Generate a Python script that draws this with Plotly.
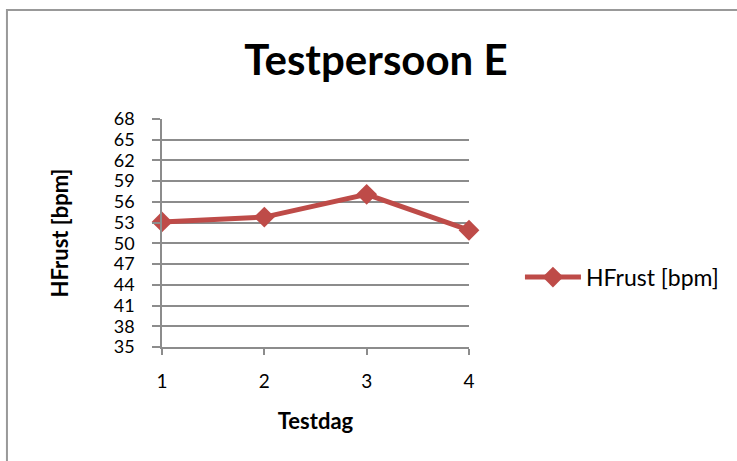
import plotly.graph_objects as go

testdag = [1, 2, 3, 4]
hfrust = [53.1, 53.8, 57.1, 51.9]
y_ticks = [35, 38, 41, 44, 47, 50, 53, 56, 59, 62, 65, 68]
series_name = "HFrust [bpm]"
title_text = "Testpersoon E"
x_title = "Testdag"
y_title = "HFrust [bpm]"

W, H = 737, 461
L, R, T, B = 161.7, 469.0, 119.3, 346.7
pw, ph = R - L, B - T

FONT = "Lato"
RED = "#BE4B48"
GRID = "#8C8C8C"

fig = go.Figure()
fig.add_trace(go.Scatter(
    x=testdag, y=hfrust, mode="lines+markers", name=series_name,
    line=dict(color=RED, width=5),
    marker=dict(symbol="diamond", size=16, color=RED),
    cliponaxis=False,
))

def px_x(v):
    return (v - L) / pw

def px_y(v):
    return (B - v) / ph

fig.update_layout(
    width=W, height=H,
    margin=dict(l=L, r=W - R, t=T, b=H - B, pad=0),
    paper_bgcolor="white", plot_bgcolor="white",
    font=dict(family=FONT, color="black", size=18),
    title=dict(text="<b>" + title_text + "</b>", x=376 / W, xanchor="center",
               y=1 - 60 / H, yanchor="middle", yref="container",
               font=dict(family=FONT, size=42, color="black")),
    xaxis=dict(range=[1, 4], tickvals=testdag, ticks="outside", ticklen=6,
               tickcolor=GRID, tickwidth=1.5, showline=True, linecolor=GRID,
               linewidth=1.5, showgrid=False, zeroline=False,
               ticklabelstandoff=10,
               tickfont=dict(family=FONT, size=19),
               title=dict(text="<b>" + x_title + "</b>", standoff=23,
                          font=dict(family=FONT, size=22))),
    yaxis=dict(range=[35, 68], tickvals=y_ticks, ticks="outside", ticklen=8,
               tickcolor=GRID, tickwidth=1.5, showline=True, linecolor=GRID,
               linewidth=1.5, showgrid=True, gridcolor=GRID, gridwidth=1.5,
               zeroline=False, ticklabelstandoff=14,
               tickfont=dict(family=FONT, size=18),
               title=dict(text="<b>" + y_title + "</b>", standoff=39,
                          font=dict(family=FONT, size=22))),
    legend=dict(x=px_x(520), y=px_y(277), xanchor="left", yanchor="middle",
                itemwidth=56,
                font=dict(family=FONT, size=23), bgcolor="rgba(0,0,0,0)"),
    showlegend=True,
    shapes=[dict(type="rect", xref="paper", yref="paper",
                 x0=px_x(6.5), x1=px_x(760), y0=px_y(480), y1=px_y(10.5),
                 line=dict(color="#999999", width=2), fillcolor="rgba(0,0,0,0)",
                 layer="below")],
)

fig.write_html("out.html", config={"displayModeBar": False},
               post_script="document.body.style.margin='0px';")
